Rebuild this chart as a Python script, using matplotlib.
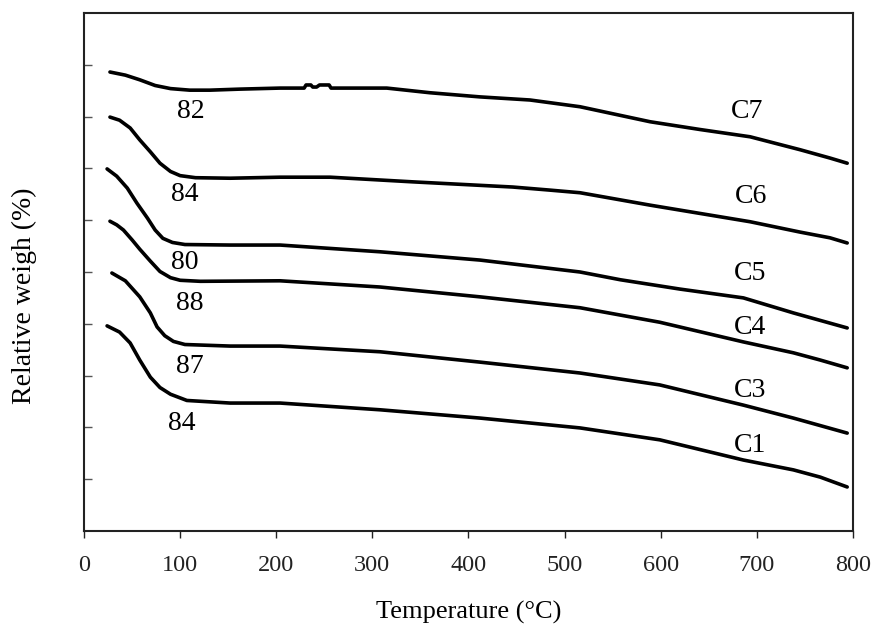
import matplotlib
matplotlib.use("Agg")
import matplotlib.pyplot as plt

plt.rcParams['font.family'] = ['Liberation Serif', 'DejaVu Serif']

# TGA curves, temperature (C) vs relative weight (stacked, arbitrary offset units)
t_c7 = [27, 43, 58, 74, 90, 110, 131, 162, 204, 229, 231, 236, 238, 242, 245, 255, 257,
        315, 360, 412, 464, 516, 589, 641, 693, 745, 776, 794]
w_c7 = [8.86, 8.80, 8.71, 8.60, 8.54, 8.51, 8.51, 8.53, 8.55, 8.55, 8.61, 8.61, 8.57, 8.57,
        8.61, 8.61, 8.55, 8.55, 8.46, 8.38, 8.32, 8.19, 7.90, 7.75, 7.61, 7.36, 7.20, 7.10]

t_c6 = [27, 37, 48, 58, 69, 79, 90, 100, 116, 152, 204, 256, 342, 446, 485, 516, 589,
        693, 745, 776, 794]
w_c6 = [7.99, 7.93, 7.78, 7.55, 7.32, 7.10, 6.94, 6.86, 6.82, 6.81, 6.83, 6.83, 6.74, 6.64,
        6.58, 6.53, 6.29, 5.97, 5.77, 5.66, 5.56]

t_c5 = [24, 34, 45, 55, 66, 74, 82, 92, 105, 152, 204, 308, 412, 516, 558, 620, 686, 738, 794]
w_c5 = [6.99, 6.85, 6.62, 6.33, 6.04, 5.81, 5.65, 5.57, 5.53, 5.52, 5.52, 5.39, 5.23, 5.00,
        4.85, 4.67, 4.50, 4.21, 3.92]

t_c4 = [27, 34, 41, 50, 58, 69, 79, 90, 100, 121, 204, 308, 412, 516, 599, 686, 738, 766, 794]
w_c4 = [5.98, 5.91, 5.81, 5.62, 5.44, 5.21, 5.01, 4.89, 4.84, 4.82, 4.83, 4.71, 4.52, 4.31,
        4.03, 3.65, 3.44, 3.30, 3.15]

t_c3 = [29, 43, 58, 69, 76, 84, 93, 105, 152, 204, 308, 412, 516, 599, 686, 738, 794]
w_c3 = [4.98, 4.83, 4.52, 4.21, 3.94, 3.77, 3.66, 3.60, 3.57, 3.57, 3.46, 3.26, 3.05, 2.82,
        2.43, 2.18, 1.89]

t_c1 = [24, 37, 48, 58, 69, 79, 90, 107, 152, 204, 308, 412, 516, 599, 686, 738, 766, 794]
w_c1 = [3.96, 3.84, 3.63, 3.30, 2.97, 2.77, 2.64, 2.52, 2.47, 2.47, 2.34, 2.18, 1.99, 1.76,
        1.37, 1.18, 1.04, 0.85]

curves = [(t_c7, w_c7), (t_c6, w_c6), (t_c5, w_c5), (t_c4, w_c4), (t_c3, w_c3), (t_c1, w_c1)]

names = ['C7', 'C6', 'C5', 'C4', 'C3', 'C1']
name_pos = [(690, 8.09), (694, 6.45), (693, 4.98), (693, 3.92), (693, 2.72), (693, 1.66)]

yields = ['82', '84', '80', '88', '87', '84']
yield_pos = [(111, 8.09), (105, 6.49), (105, 5.19), (110, 4.40), (110, 3.17), (102, 2.08)]

xticks = [0, 100, 200, 300, 400, 500, 600, 700, 800]
yticks = [1, 2, 3, 4, 5, 6, 7, 8, 9]

fig = plt.figure(figsize=(8.77, 6.39), dpi=100)
ax = fig.add_axes([0.0958, 0.169, 0.8768, 0.8107])

for t, w in curves:
    ax.plot(t, w, color='black', lw=2.6, solid_capstyle='round', solid_joinstyle='round')

for s, (x, y) in zip(names, name_pos):
    ax.text(x, y, s, fontsize=20, ha='center', va='center')
for s, (x, y) in zip(yields, yield_pos):
    ax.text(x, y, s, fontsize=20, ha='center', va='center')

ax.set_xlim(0, 800)
ax.set_ylim(0, 10)
ax.set_xticks(xticks)
ax.set_yticks(yticks)
ax.set_yticklabels([])
ax.tick_params(axis='x', direction='out', length=5, width=1, labelsize=17.5, pad=12,
               colors='#222222')
ax.tick_params(axis='y', direction='in', length=6, width=1, colors='#555555')
for sp in ax.spines.values():
    sp.set_linewidth(1.5)
    sp.set_color('#222222')

ax.set_xlabel('Temperature (°C)', fontsize=19, labelpad=18)
ax.set_ylabel('Relative weigh (%)', fontsize=20)
ax.yaxis.set_label_coords(-0.061, 0.454)

fig.savefig('out.png', dpi=100)
